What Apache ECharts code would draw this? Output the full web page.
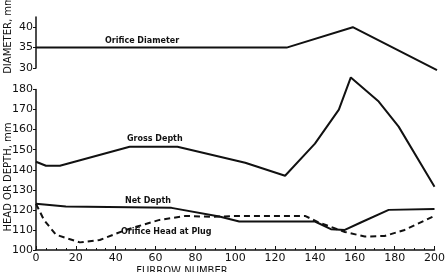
<!DOCTYPE html>
<html>
<head>
<meta charset="utf-8">
<script src="https://cdn.jsdelivr.net/npm/echarts@6/dist/echarts.min.js"></script>
<style>
  html, body { margin: 0; padding: 0; background: #fff; }
  #chart { width: 448px; height: 272px; }
</style>
</head>
<body>
<div id="chart"></div>
<script>
// furrow number (x) and values
var diamX = [0, 125, 158, 200];
var diamY = [35, 35, 40, 29.5];

var grossX = [0, 5, 12, 47, 71, 105, 125, 140, 152, 158, 172, 182, 200];
var grossY = [144, 142, 142, 151.5, 151.5, 143.5, 137, 153, 170, 186, 174, 161.5, 131.5];

var netX = [0, 15, 68, 92, 102, 140, 148, 155, 163, 177, 200];
var netY = [123, 121.7, 121, 116.7, 114.2, 114.2, 110.4, 110, 113.7, 120, 120.4];

var headX = [0, 4, 10, 22, 32, 45, 62, 75, 88, 102, 135, 142, 155, 165, 175, 185, 200];
var headY = [123, 115, 107.6, 103.8, 105, 110, 115, 117, 116.5, 117, 117, 113.7, 109, 106.7, 107, 110, 117];

var xTicks = [0, 20, 40, 60, 80, 100, 120, 140, 160, 180, 200];
var diamTicks = [30, 35, 40];

function pairs(xs, ys) {
  return xs.map(function (x, i) { return [x, ys[i]]; });
}

var font = 'DejaVu Sans';
var ink = '#111';

var chart = echarts.init(document.getElementById('chart'));
chart.setOption({
  animation: false,
  grid: [
    { left: 36, right: 11, top: 17, height: 51 },
    { left: 36, right: 11, top: 89.5, bottom: 22 }
  ],
  xAxis: [
    { gridIndex: 0, type: 'value', min: 0, max: 200, show: false },
    {
      gridIndex: 1, type: 'value', min: 0, max: 200, interval: 20,
      axisLine: { lineStyle: { color: ink, width: 1.5 } },
      axisTick: { inside: true, length: 4, lineStyle: { color: ink } },
      minorTick: { show: true, splitNumber: 4, length: 2, lineStyle: { color: ink } },
      splitLine: { show: false },
      axisLabel: { color: ink, fontFamily: font, fontSize: 11, margin: 3 }
    }
  ],
  yAxis: [
    {
      gridIndex: 0, type: 'value', min: 30, max: 42.5,
      axisLine: { show: true, lineStyle: { color: ink, width: 1.5 } },
      axisTick: { show: true, length: 3, customValues: diamTicks, lineStyle: { color: ink } },
      axisLabel: { color: ink, fontFamily: font, fontSize: 11, margin: 3, customValues: diamTicks },
      splitLine: { show: false }
    },
    {
      gridIndex: 1, type: 'value', min: 100, max: 180, interval: 10,
      axisLine: { show: true, lineStyle: { color: ink, width: 1.5 } },
      axisTick: { show: true, length: 3, lineStyle: { color: ink } },
      axisLabel: { color: ink, fontFamily: font, fontSize: 11, margin: 3 },
      splitLine: { show: false }
    }
  ],
  series: [
    {
      name: 'Orifice Diameter', type: 'line', xAxisIndex: 0, yAxisIndex: 0,
      data: pairs(diamX, diamY), symbol: 'none', clip: false,
      lineStyle: { color: ink, width: 2 }
    },
    {
      name: 'Gross Depth', type: 'line', xAxisIndex: 1, yAxisIndex: 1,
      data: pairs(grossX, grossY), symbol: 'none', clip: false,
      lineStyle: { color: ink, width: 2 }
    },
    {
      name: 'Net Depth', type: 'line', xAxisIndex: 1, yAxisIndex: 1,
      data: pairs(netX, netY), symbol: 'none', clip: false,
      lineStyle: { color: ink, width: 2 }
    },
    {
      name: 'Orifice Head at Plug', type: 'line', xAxisIndex: 1, yAxisIndex: 1,
      data: pairs(headX, headY), symbol: 'none', clip: false,
      lineStyle: { color: ink, width: 2, type: [6, 4] }
    }
  ],
  graphic: [
    // curve labels
    { type: 'text', left: 105, top: 37, style: { text: 'Orifice Diameter', font: 'bold 8px ' + font, fill: ink } },
    { type: 'text', left: 127, top: 135, style: { text: 'Gross Depth', font: 'bold 8px ' + font, fill: ink } },
    { type: 'text', left: 125, top: 197, style: { text: 'Net Depth', font: 'bold 8px ' + font, fill: ink } },
    { type: 'text', left: 121, top: 228, style: { text: 'Orifice Head at Plug', font: 'bold 8px ' + font, fill: ink } },
    // axis titles
    {
      type: 'text', x: 8, y: 35, rotation: Math.PI / 2,
      style: { text: 'DIAMETER, mm', font: '10px ' + font, fill: ink, align: 'center', verticalAlign: 'middle' }
    },
    {
      type: 'text', x: 8, y: 177, rotation: Math.PI / 2,
      style: { text: 'HEAD OR DEPTH, mm', font: '10px ' + font, fill: ink, align: 'center', verticalAlign: 'middle' }
    },
    {
      type: 'text', x: 182, y: 266,
      style: { text: 'FURROW NUMBER', font: '10px ' + font, fill: ink, align: 'center', verticalAlign: 'top' }
    }
  ]
});
</script>
</body>
</html>
